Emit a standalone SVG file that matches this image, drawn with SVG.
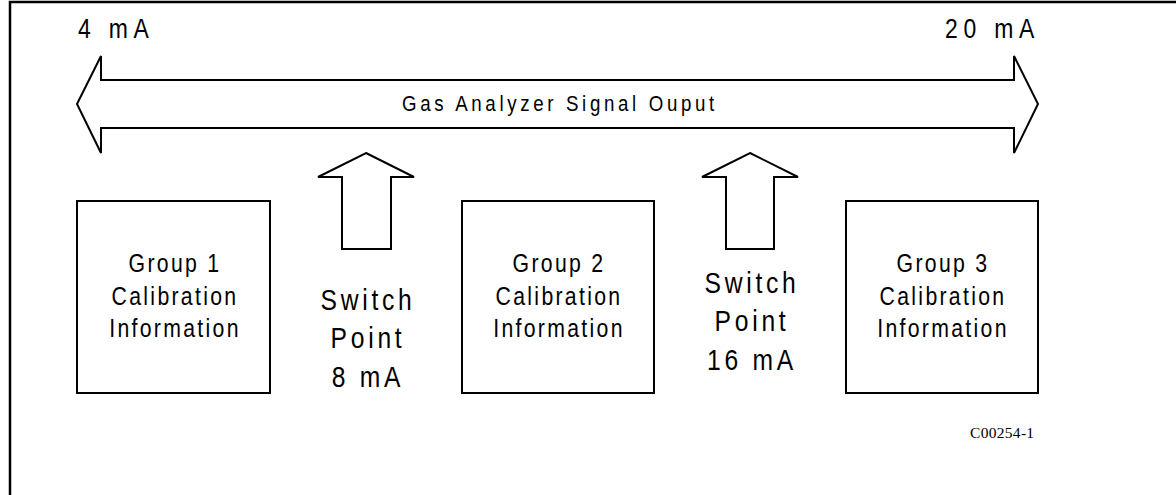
<svg xmlns="http://www.w3.org/2000/svg" width="1176" height="495" viewBox="0 0 1176 495">
<style>
.shape{fill:#fff;stroke:#000;stroke-width:2;stroke-linejoin:miter}
.frame{fill:none;stroke:#000;stroke-width:2.5}
.t{font-family:"Liberation Sans",Arial,sans-serif;fill:#000;text-anchor:middle}
.box{font-size:25px;letter-spacing:2.7px}
.sw{font-size:29px;letter-spacing:4.4px}
.ma{font-size:27px;letter-spacing:6.8px;text-anchor:start}
.sig{font-size:22px;letter-spacing:4.3px}
.id{font-family:"Liberation Serif","Times New Roman",serif;font-size:15.5px;letter-spacing:0.3px;fill:#000}
</style>
<g id="frame">
<path class="frame" d="M10,495 V2 H1176"/>
</g>
<g id="connectors">
<path id="signal-arrow" class="shape" d="M77,104 L101,56 V80 H1014 V56 L1038,104 L1014,153 V128 H101 V153 Z"/>
<path id="switch-arrow-1" class="shape" d="M366,153 L414,177 H391 V249 H342 V177 H318 Z"/>
<path id="switch-arrow-2" class="shape" d="M750,153 L798,177 H774 V249 H726 V177 H702 Z"/>
</g>
<g id="label-4ma" transform="translate(78,0) scale(0.85,1)"><text class="t ma" x="0" y="38">4 mA</text></g>
<g id="label-20ma" transform="translate(945,0) scale(0.85,1)"><text class="t ma" x="0" y="38">20 mA</text></g>
<g id="label-signal" transform="translate(560,0) scale(0.85,1)"><text class="t sig" x="0" y="111">Gas Analyzer Signal Ouput</text></g>
<g id="group1">
<rect class="shape" x="77" y="201" width="193" height="192"/>
<g transform="translate(175,0) scale(0.85,1)">
<text class="t box" x="0" y="272">Group 1</text>
<text class="t box" x="0" y="305">Calibration</text>
<text class="t box" x="0" y="337">Information</text>
</g>
</g>
<g id="switch1" transform="translate(368,0) scale(0.85,1)">
<text class="t sw" x="0" y="310">Switch</text>
<text class="t sw" x="0" y="348">Point</text>
<text class="t sw" x="0" y="387">8 mA</text>
</g>
<g id="group2">
<rect class="shape" x="462" y="201" width="192" height="192"/>
<g transform="translate(559,0) scale(0.85,1)">
<text class="t box" x="0" y="272">Group 2</text>
<text class="t box" x="0" y="305">Calibration</text>
<text class="t box" x="0" y="337">Information</text>
</g>
</g>
<g id="switch2" transform="translate(752,0) scale(0.85,1)">
<text class="t sw" x="0" y="293">Switch</text>
<text class="t sw" x="0" y="331">Point</text>
<text class="t sw" x="0" y="370">16 mA</text>
</g>
<g id="group3">
<rect class="shape" x="846" y="201" width="192" height="192"/>
<g transform="translate(943,0) scale(0.85,1)">
<text class="t box" x="0" y="272">Group 3</text>
<text class="t box" x="0" y="305">Calibration</text>
<text class="t box" x="0" y="337">Information</text>
</g>
</g>
<g id="figure-id"><text class="id" x="970" y="438">C00254-1</text></g>
</svg>
